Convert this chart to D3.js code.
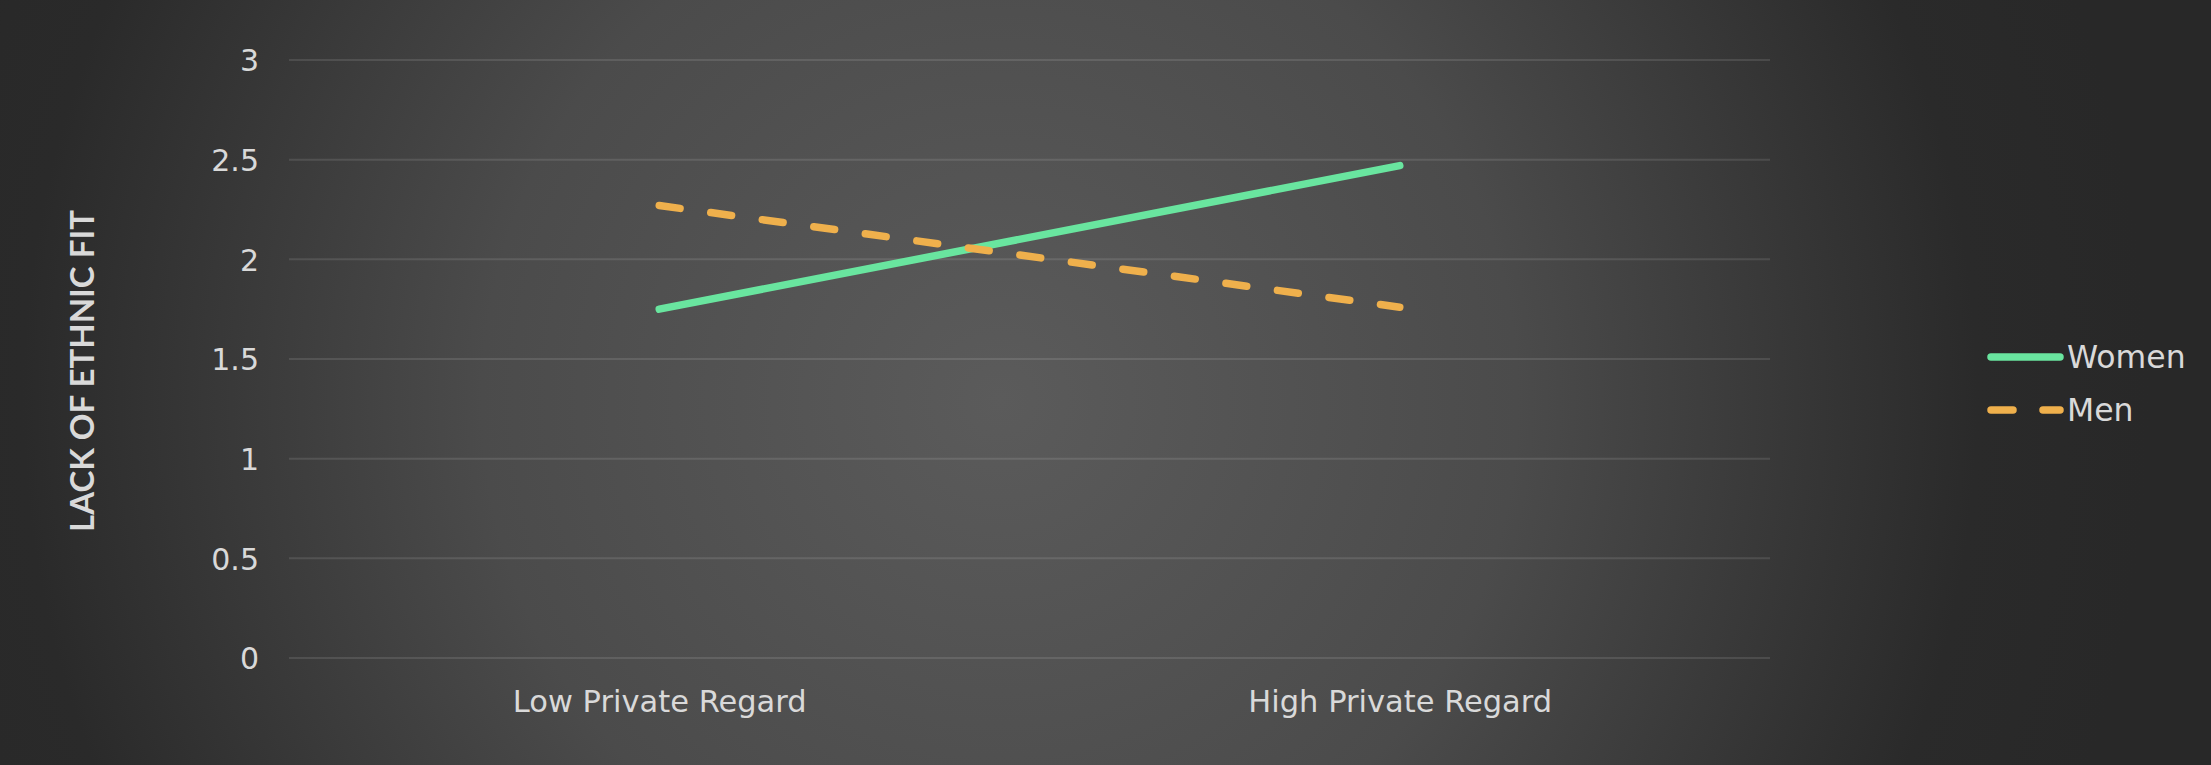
<!DOCTYPE html>
<html>
<head>
<meta charset="utf-8">
<script src="https://cdnjs.cloudflare.com/ajax/libs/d3/7.8.5/d3.min.js"></script>
<style>
  html, body { margin: 0; padding: 0; background: #282828; }
  svg { display: block; }
</style>
</head>
<body>
<svg id="chart" width="2211" height="765"></svg>
<script>
// ---- data ----
const categories = ["Low Private Regard", "High Private Regard"];
const womenValues = [1.75, 2.47];
const menValues = [2.27, 1.76];
const seriesNames = ["Women", "Men"];
const yTicks = [0, 0.5, 1, 1.5, 2, 2.5, 3];
const yTitle = "LACK OF ETHNIC FIT";

(function () {
const W = 2211, H = 765;
const svg = d3.select("#chart");
const font = "'DejaVu Sans', sans-serif";
const titleFont = "Lato, 'Open Sans', sans-serif";
const textColor = "#d9d9d9";
const colors = { Women: "#69e59f", Men: "#efb04c" };

// background
const defs = svg.append("defs");
const grad = defs.append("radialGradient")
  .attr("id", "bg").attr("gradientUnits", "userSpaceOnUse")
  .attr("cx", 1000).attr("cy", 400).attr("r", 1150);
grad.append("stop").attr("offset", 0).attr("stop-color", "#5b5b5b");
grad.append("stop").attr("offset", 0.45).attr("stop-color", "#4b4b4b");
grad.append("stop").attr("offset", 0.85).attr("stop-color", "#2a2a2a");
grad.append("stop").attr("offset", 1).attr("stop-color", "#282828");
svg.append("rect").attr("width", W).attr("height", H).attr("fill", "url(#bg)");

const pLeft = 289, pRight = 1770, pTop = 60, pBottom = 658;
const x = d3.scalePoint().domain(categories).range([pLeft, pRight]).padding(0.5);
const y = d3.scaleLinear().domain([0, 3]).range([pBottom, pTop]);

// gridlines
svg.append("g").selectAll("line").data(yTicks).join("line")
  .attr("x1", pLeft).attr("x2", pRight)
  .attr("y1", d => y(d)).attr("y2", d => y(d))
  .attr("stroke", "rgba(255,255,255,0.11)").attr("stroke-width", 2);

// y axis labels
const yAxis = d3.axisLeft(y).tickValues(yTicks).tickSize(0).tickPadding(0)
  .tickFormat(d3.format("~g"));
const gy = svg.append("g").attr("transform", `translate(259,0)`).call(yAxis);
gy.select(".domain").remove();
gy.selectAll("text").attr("fill", textColor).attr("font-family", font)
  .attr("font-size", 30).attr("dy", "0.36em");

// x axis labels
const xAxis = d3.axisBottom(x).tickSize(0).tickPadding(0);
const gx = svg.append("g").attr("transform", `translate(0,712)`).call(xAxis);
gx.select(".domain").remove();
gx.selectAll("text").attr("fill", textColor).attr("font-family", font)
  .attr("font-size", 30.5).attr("dy", 0);

// y title
svg.append("text")
  .attr("transform", `translate(94,371) rotate(-90)`)
  .attr("text-anchor", "middle")
  .attr("fill", textColor).attr("font-family", titleFont)
  .attr("font-weight", "bold").attr("font-size", 33)
  .text(yTitle);

// lines
const series = [
  { name: seriesNames[0], values: womenValues, dash: null },
  { name: seriesNames[1], values: menValues, dash: "21,31" }
];
const line = d3.line().x((d, i) => x(categories[i])).y(d => y(d));
svg.append("g").selectAll("path").data(series).join("path")
  .attr("d", d => line(d.values))
  .attr("fill", "none")
  .attr("stroke", d => colors[d.name])
  .attr("stroke-width", 7.5)
  .attr("stroke-linecap", "round")
  .attr("stroke-dasharray", d => d.dash);

// legend
const lg = svg.append("g");
const legY = [357, 410];
series.forEach((s, i) => {
  lg.append("line").attr("x1", 1991).attr("x2", 2060)
    .attr("y1", legY[i]).attr("y2", legY[i])
    .attr("stroke", colors[s.name]).attr("stroke-width", 7.5)
    .attr("stroke-linecap", "round")
    .attr("stroke-dasharray", s.dash ? "22,30" : null);
  lg.append("text").attr("x", 2067).attr("y", legY[i]).attr("dy", "0.36em")
    .attr("fill", textColor).attr("font-family", font).attr("font-size", 31.5)
    .text(s.name);
});
})();
</script>
</body>
</html>
